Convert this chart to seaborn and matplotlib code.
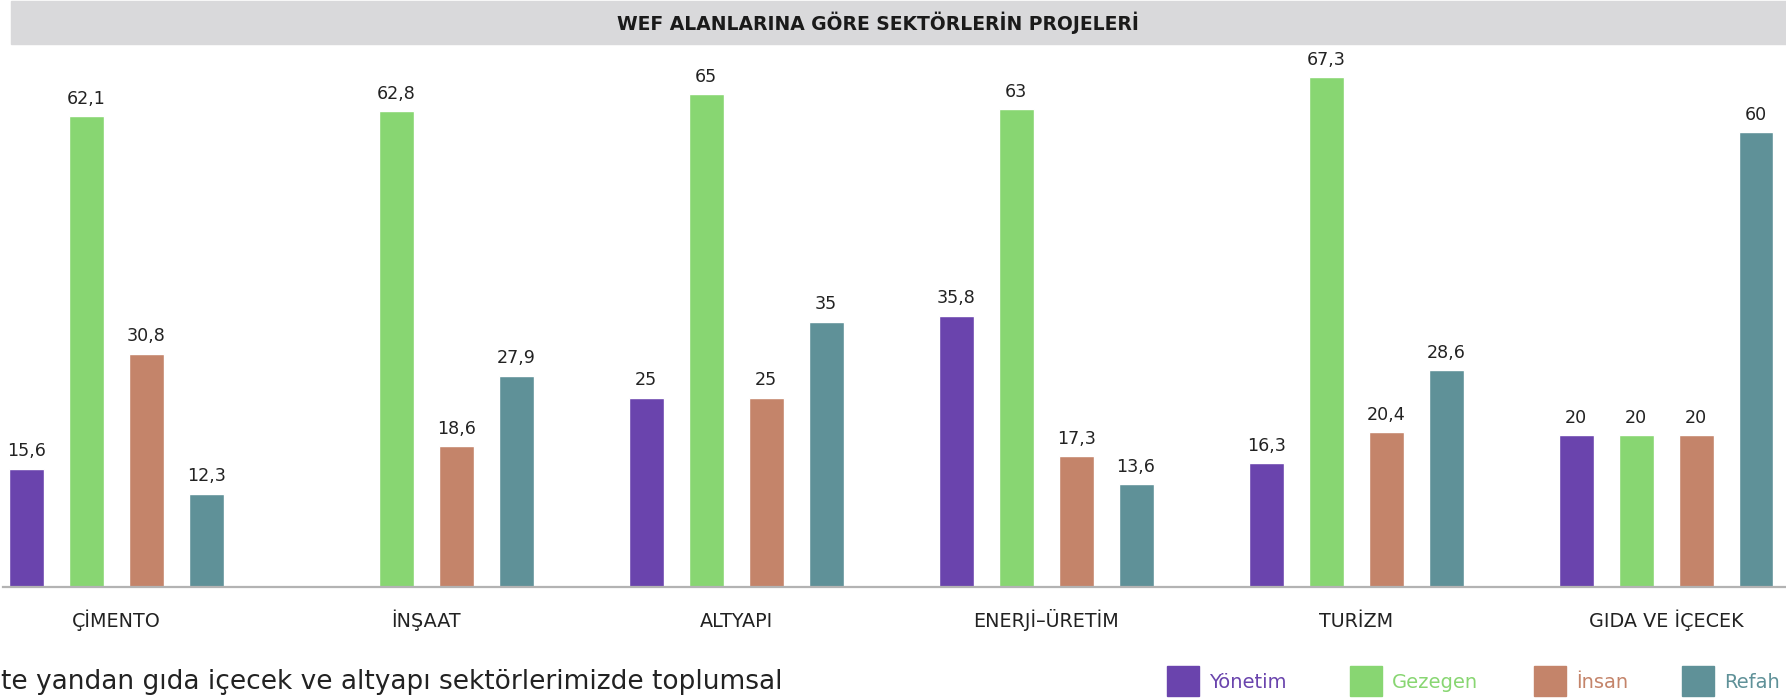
import pandas as pd
import matplotlib.pyplot as plt
import seaborn as sns
from matplotlib.patches import Rectangle

# Data
sektorler = ["ÇİMENTO", "İNŞAAT", "ALTYAPI", "ENERJİ–ÜRETİM", "TURİZM", "GIDA VE İÇECEK"]
alanlar = ["Yönetim", "Gezegen", "İnsan", "Refah"]
yonetim = [15.6, None, 25, 35.8, 16.3, 20]
gezegen = [62.1, 62.8, 65, 63, 67.3, 20]
insan = [30.8, 18.6, 25, 17.3, 20.4, 20]
refah = [12.3, 27.9, 35, 13.6, 28.6, 60]
renkler = ["#6A44AD", "#88D672", "#C4846A", "#5F9198"]

# Long format table for seaborn, missing values dropped
rows = []
for alan, seri in zip(alanlar, [yonetim, gezegen, insan, refah]):
    for sektor, deger in zip(sektorler, seri):
        if deger is not None:
            rows.append({"sektor": sektor, "alan": alan, "deger": deger})
df = pd.DataFrame(rows)

sns.set_style("white")
plt.rcParams["font.family"] = ["DejaVu Sans"]

W, H = 1786, 699
fig = plt.figure(figsize=(W / 100, H / 100), dpi=100)

# Gray title band
fig.patches.append(Rectangle((11 / W, 1 - 44 / H), 1 - 11 / W, 43 / H,
                             transform=fig.transFigure, color="#d9d9db", zorder=0))
fig.text(878 / W, 1 - 23 / H, "WEF ALANLARINA GÖRE SEKTÖRLERİN PROJELERİ",
         ha="center", va="center", fontsize=13.5, fontweight="bold", color="#1a1a1a")

ax = fig.add_axes([3 / W, 1 - 587 / H, 1 - 3 / W, (587 - 50) / H])
sns.barplot(data=df, x="sektor", y="deger", hue="alan", order=sektorler,
            hue_order=alanlar, palette=renkler, saturation=1, width=0.774,
            gap=0.417, legend=False, ax=ax)

for c in ax.containers:
    ax.bar_label(c, labels=[f"{v:g}".replace(".", ",") for v in c.datavalues],
                 padding=6, fontsize=12.6, color="#222222")

ax.set_xlim(-0.365, 5.387)
ax.set_ylim(0, (587 - 50) / 7.58)
ax.set_xlabel("")
ax.set_ylabel("")
ax.set_yticks([])
ax.tick_params(axis="x", length=0, pad=28.5, labelsize=13.8, labelcolor="#222222")
for lbl in ax.get_xticklabels():
    lbl.set_verticalalignment("baseline")
for s in ["top", "right", "left"]:
    ax.spines[s].set_visible(False)
ax.spines["bottom"].set_color("#b3b3b3")
ax.spines["bottom"].set_linewidth(1.6)

# Bottom legend with coloured labels
legend_x = [1167, 1350, 1534, 1682]
for x, alan, renk in zip(legend_x, alanlar, renkler):
    fig.patches.append(Rectangle((x / W, 1 - 696 / H), 32 / W, 30 / H,
                                 transform=fig.transFigure, color=renk))
    fig.text((x + 42) / W, 1 - 682 / H, alan, ha="left", va="center",
             fontsize=14, color=renk)

# Cut-off caption text at the bottom left
fig.text(1 / W, 1 - 682 / H, "te yandan gıda içecek ve altyapı sektörlerimizde toplumsal",
         ha="left", va="center", fontsize=19, color="#222222")

fig.savefig("out.png", dpi=100)
